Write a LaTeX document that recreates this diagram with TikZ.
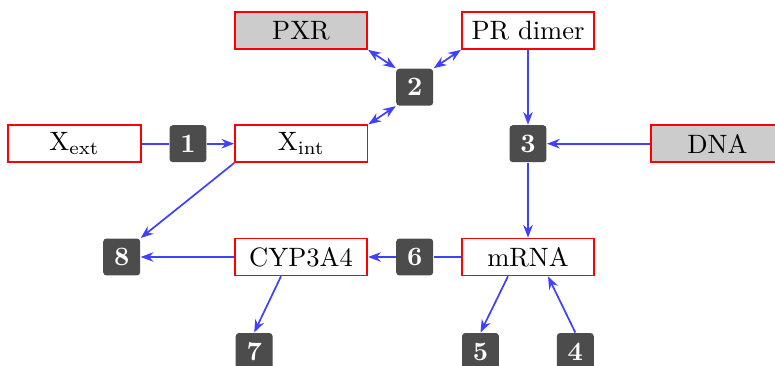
\documentclass[tikz,border=0pt]{standalone}
\usetikzlibrary{arrows.meta}
\begin{document}
\begin{tikzpicture}[x=0.3766pt,y=-0.3766pt,
 species/.style={draw=red, fill=white, minimum width=49.9pt, minimum height=13.9pt, inner sep=0pt, line width=0.65pt},
 extsp/.style={species, fill=black!20},
 reac/.style={fill=black!70, text=white, rounded corners=1.2pt, minimum size=13.9pt, inner sep=0pt, font=\bfseries},
 conn/.style={draw=blue!75, line width=0.65pt},
 arr/.style={conn, -{Stealth[length=4.8pt,width=3.6pt]}},
 biarr/.style={conn, {Stealth[length=4.8pt,width=3.6pt]}-{Stealth[length=4.8pt,width=3.6pt]}}
]
\useasboundingbox (0,0) rectangle (775,366);
\node[extsp]  (PXR)  at (301,30.5)    {PXR};
\node[species] (PRd) at (528,30.5)    {PR dimer};
\node[reac]   (r2)   at (414.7,87.2)  {2};
\node[species] (Xext) at (74.5,143.7) {$\mathrm{X}_{\mathrm{ext}}$};
\node[reac]   (r1)   at (188,143.7)   {1};
\node[species] (Xint) at (301.3,143.7) {$\mathrm{X}_{\mathrm{int}}$};
\node[reac]   (r3)   at (528,143.7)   {3};
\node[extsp]  (DNA)  at (717.5,143.7) {DNA};
\node[reac]   (r8)   at (121.7,257)   {8};
\node[species] (CYP) at (301,257)     {CYP3A4};
\node[reac]   (r6)   at (414.7,257)   {6};
\node[species] (mRNA) at (528,257)    {mRNA};
\node[reac]   (r7)   at (254.2,351.5) {7};
\node[reac]   (r5)   at (480.5,351.5) {5};
\node[reac]   (r4)   at (575.3,351.5) {4};

\draw[conn] (Xext) -- (r1);
\draw[arr] (r1) -- (Xint);
\draw[biarr] (PXR.south east) -- (r2.north west);
\draw[biarr] (PRd.south west) -- (r2.north east);
\draw[biarr] (Xint.north east) -- (r2.south west);
\draw[arr] (PRd) -- (r3);
\draw[arr] (DNA) -- (r3);
\draw[arr] (r3) -- (mRNA);
\draw[conn] (mRNA) -- (r6);
\draw[arr] (r6) -- (CYP);
\draw[arr] (CYP) -- (r8);
\draw[arr] (Xint.south west) -- (r8.north east);
\draw[arr] (CYP.224) -- (r7.north);
\draw[arr] (mRNA.224) -- (r5.north);
\draw[arr] (r4.north) -- (mRNA.316);
\end{tikzpicture}
\end{document}
